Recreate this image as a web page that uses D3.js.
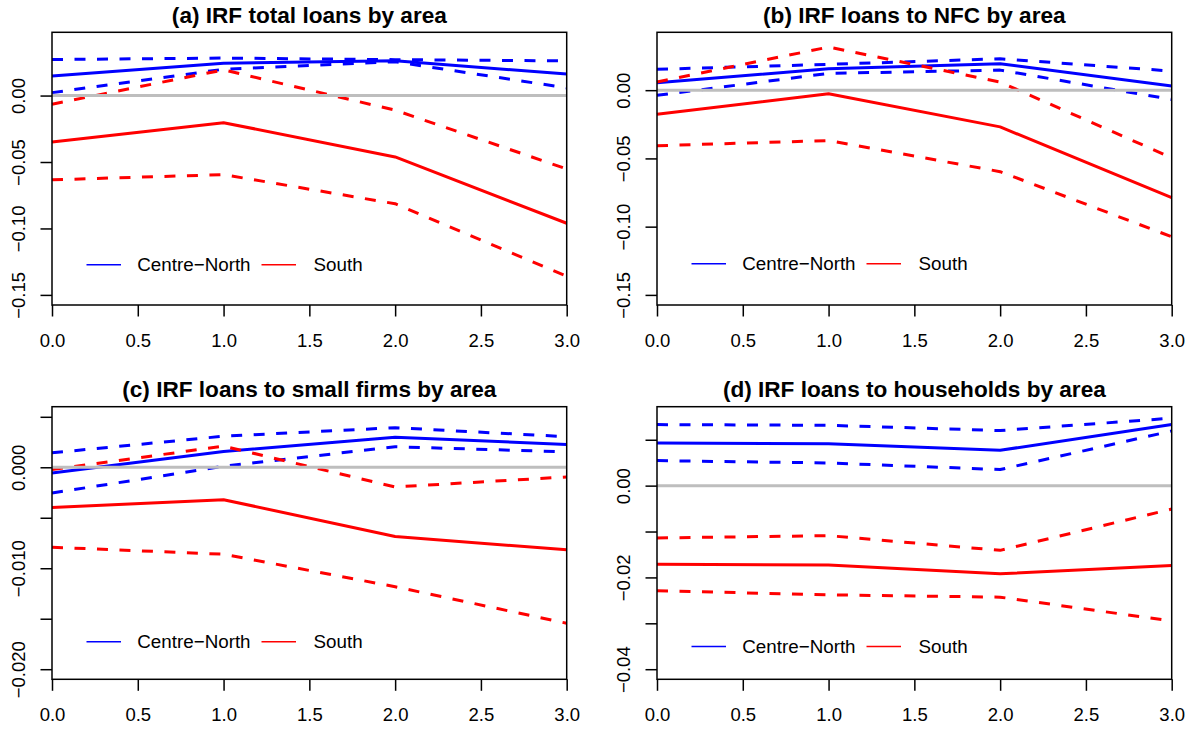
<!DOCTYPE html>
<html>
<head>
<meta charset="utf-8">
<script src="https://cdn.jsdelivr.net/npm/d3@7"></script>
<style>
  body { margin: 0; background: #ffffff; }
  svg { display: block; font-family: "Liberation Sans", Arial, Helvetica, sans-serif; }
</style>
</head>
<body>
<svg id="chart" width="1194" height="729"></svg>
<script>
// Horizons (quarters after the shock) and x-axis ticks
const horizons = [0, 1, 2, 3];
const xTickValues = [0, 0.5, 1, 1.5, 2, 2.5, 3];
const xTickLabels = ["0.0", "0.5", "1.0", "1.5", "2.0", "2.5", "3.0"];
const seriesNames = ["Centre\u2212North", "South"];

const panelTitles = [
  "(a) IRF total loans by area",
  "(b) IRF loans to NFC by area",
  "(c) IRF loans to small firms by area",
  "(d) IRF loans to households by area"
];

// (a) total loans: point estimate and confidence bands
const totalCN    = [0.0148, 0.0244, 0.0262, 0.0162];
const totalCNLo  = [0.0022, 0.0198, 0.0254, 0.0058];
const totalCNHi  = [0.0271, 0.0282, 0.0270, 0.0261];
const totalS     = [-0.0350, -0.0204, -0.0462, -0.0961];
const totalSLo   = [-0.0634, -0.0595, -0.0814, -0.1360];
const totalSHi   = [-0.0065, 0.0193, -0.0110, -0.0552];

// (b) loans to non-financial corporations
const nfcCN      = [0.0055, 0.0157, 0.0194, 0.0031];
const nfcCNLo    = [-0.0038, 0.0123, 0.0147, -0.0068];
const nfcCNHi    = [0.0153, 0.0189, 0.0230, 0.0140];
const nfcS       = [-0.0176, -0.0026, -0.0269, -0.0788];
const nfcSLo     = [-0.0407, -0.0369, -0.0597, -0.1074];
const nfcSHi     = [0.0060, 0.0316, 0.0059, -0.0495];

// (c) loans to small firms
const smallCN    = [-0.00056, 0.00156, 0.00298, 0.00226];
const smallCNLo  = [-0.00255, 0.00010, 0.00203, 0.00153];
const smallCNHi  = [0.00143, 0.00308, 0.00392, 0.00303];
const smallS     = [-0.00398, -0.00321, -0.00686, -0.00818];
const smallSLo   = [-0.00792, -0.00861, -0.01183, -0.01545];
const smallSHi   = [-0.00023, 0.00209, -0.00195, -0.00096];

// (d) loans to households
const hhCN       = [0.0093, 0.0091, 0.0077, 0.0133];
const hhCNLo     = [0.00545, 0.00494, 0.0035, 0.0119];
const hhCNHi     = [0.0133, 0.01315, 0.0120, 0.0147];
const hhS        = [-0.01714, -0.0173, -0.0192, -0.0174];
const hhSLo      = [-0.0229, -0.0238, -0.0243, -0.0295];
const hhSHi      = [-0.0114, -0.0109, -0.0141, -0.0051];

// y limits and y-axis ticks per panel (blank label = tick without text)
const yLimA = [-0.15, 0.04];
const yTicksA = [0, -0.05, -0.10, -0.15];
const yLabelsA = ["0.00", "\u22120.05", "\u22120.10", "\u22120.15"];
const yLimB = [-0.15, 0.035];
const yTicksB = [0, -0.05, -0.10, -0.15];
const yLabelsB = ["0.00", "\u22120.05", "\u22120.10", "\u22120.15"];
const yLimC = [-0.02, 0.005];
const yTicksC = [0.005, 0, -0.005, -0.010, -0.015, -0.020];
const yLabelsC = ["", "0.000", "", "\u22120.010", "", "\u22120.020"];
const yLimD = [-0.04, 0.015];
const yTicksD = [0.01, 0, -0.01, -0.02, -0.03, -0.04];
const yLabelsD = ["", "0.00", "", "\u22120.02", "", "\u22120.04"];

const panels = [
  { title: panelTitles[0], cn: totalCN, cnLo: totalCNLo, cnHi: totalCNHi, s: totalS, sLo: totalSLo, sHi: totalSHi, ylim: yLimA, yTicks: yTicksA, yLabels: yLabelsA },
  { title: panelTitles[1], cn: nfcCN, cnLo: nfcCNLo, cnHi: nfcCNHi, s: nfcS, sLo: nfcSLo, sHi: nfcSHi, ylim: yLimB, yTicks: yTicksB, yLabels: yLabelsB },
  { title: panelTitles[2], cn: smallCN, cnLo: smallCNLo, cnHi: smallCNHi, s: smallS, sLo: smallSLo, sHi: smallSHi, ylim: yLimC, yTicks: yTicksC, yLabels: yLabelsC },
  { title: panelTitles[3], cn: hhCN, cnLo: hhCNLo, cnHi: hhCNHi, s: hhS, sLo: hhSLo, sHi: hhSHi, ylim: yLimD, yTicks: yTicksD, yLabels: yLabelsD }
];

// Plot-region boxes of the 2x2 grid and legend offsets from the box top
const boxes = [
  { x0: 52,  x1: 566.7,  y0: 32.3,  y1: 305,   legendDy: 232.5 },
  { x0: 657, x1: 1171.7, y0: 32.3,  y1: 305,   legendDy: 231.5 },
  { x0: 52,  x1: 566.7,  y0: 406.7, y1: 679.3, legendDy: 235 },
  { x0: 657, x1: 1171.7, y0: 406.7, y1: 679.3, legendDy: 239.8 }
];

const BLUE = "#0000ff", RED = "#ff0000", GREY = "#bebebe";
const FONT = 18.5;
const LEGEND_FONT = 18.8;
const svg = d3.select("#chart");

function drawPanel(p, box) {
  const g = svg.append("g");
  const x = d3.scaleLinear().domain([0, 3]).range([box.x0, box.x1]);
  const pad = (p.ylim[1] - p.ylim[0]) * 0.04;
  const y = d3.scaleLinear().domain([p.ylim[0] - pad, p.ylim[1] + pad]).range([box.y1, box.y0]);
  const line = d3.line().x((d, i) => x(horizons[i])).y(d => y(d));

  const series = [
    { v: p.cn,   c: BLUE, dash: false },
    { v: p.cnLo, c: BLUE, dash: true },
    { v: p.cnHi, c: BLUE, dash: true },
    { v: p.s,    c: RED,  dash: false },
    { v: p.sLo,  c: RED,  dash: true },
    { v: p.sHi,  c: RED,  dash: true }
  ];
  g.selectAll("path.series").data(series).join("path")
    .attr("class", "series")
    .attr("d", d => line(d.v))
    .attr("fill", "none")
    .attr("stroke", d => d.c)
    .attr("stroke-width", 3)
    .attr("stroke-linejoin", "round")
    .attr("stroke-dasharray", d => d.dash ? "11,11.5" : null);

  // zero reference line
  g.append("line")
    .attr("x1", box.x0).attr("x2", box.x1)
    .attr("y1", y(0)).attr("y2", y(0))
    .attr("stroke", GREY).attr("stroke-width", 3);

  // frame
  g.append("rect")
    .attr("x", box.x0).attr("y", box.y0)
    .attr("width", box.x1 - box.x0).attr("height", box.y1 - box.y0)
    .attr("fill", "none").attr("stroke", "#000").attr("stroke-width", 1.5);

  // x axis
  g.append("g")
    .attr("transform", `translate(0,${box.y1})`)
    .call(d3.axisBottom(x).tickValues(xTickValues).tickFormat((d, i) => xTickLabels[i]).tickSize(11.5).tickSizeOuter(0))
    .call(a => a.select(".domain").remove())
    .call(a => a.attr("font-size", null).attr("font-family", null))
    .call(a => a.selectAll("line").attr("stroke", "#000").attr("stroke-width", 1.5))
    .call(a => a.selectAll("text").attr("y", 41.5).attr("dy", null)
      .attr("font-size", FONT).attr("fill", "#000"));

  // y axis with labels rotated along the axis
  g.append("g")
    .attr("transform", `translate(${box.x0},0)`)
    .call(d3.axisLeft(y).tickValues(p.yTicks).tickFormat((d, i) => p.yLabels[i]).tickSize(11.5).tickSizeOuter(0))
    .call(a => a.select(".domain").remove())
    .call(a => a.attr("font-size", null).attr("font-family", null))
    .call(a => a.selectAll("line").attr("stroke", "#000").attr("stroke-width", 1.5))
    .call(a => a.selectAll("text")
      .attr("transform", "rotate(-90)")
      .attr("x", 0).attr("y", -27).attr("dy", null)
      .attr("text-anchor", "middle")
      .attr("font-size", FONT).attr("fill", "#000"));

  // title
  g.append("text")
    .attr("x", (box.x0 + box.x1) / 2)
    .attr("y", box.y0 - 9.7)
    .attr("text-anchor", "middle")
    .attr("font-weight", "bold")
    .attr("font-size", 22.6)
    .text(p.title);

  // legend
  const ly = box.y0 + box.legendDy;
  const legendItems = [
    { name: seriesNames[0], c: BLUE, lx: 34.5, tx: 85.3 },
    { name: seriesNames[1], c: RED,  lx: 209.5, tx: 261.5 }
  ];
  legendItems.forEach(it => {
    g.append("line")
      .attr("x1", box.x0 + it.lx).attr("x2", box.x0 + it.lx + 34.5)
      .attr("y1", ly).attr("y2", ly)
      .attr("stroke", it.c).attr("stroke-width", 1.5);
    g.append("text")
      .attr("x", box.x0 + it.tx).attr("y", ly)
      .attr("dy", "0.35em")
      .attr("font-size", LEGEND_FONT)
      .text(it.name);
  });
}

panels.forEach((p, i) => drawPanel(p, boxes[i]));
</script>
</body>
</html>
